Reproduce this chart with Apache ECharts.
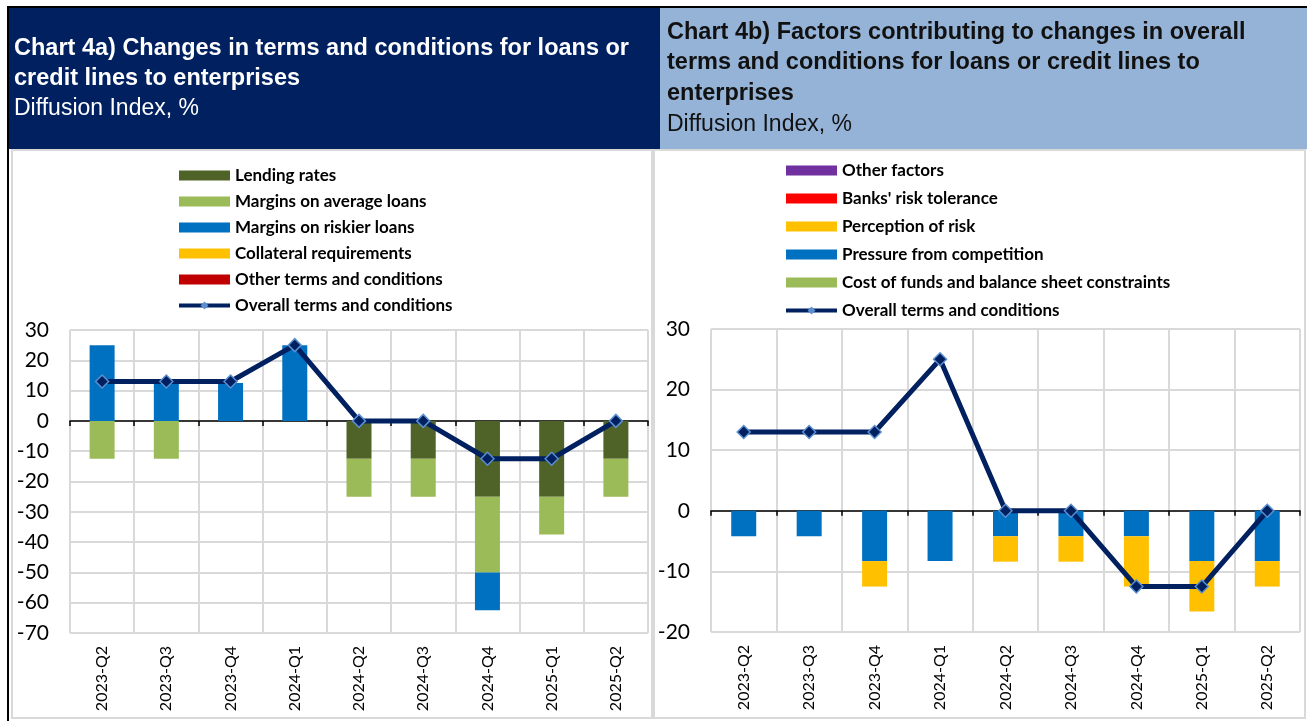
<!DOCTYPE html>
<html>
<head>
<meta charset="utf-8">
<script src="https://cdn.jsdelivr.net/npm/echarts@6/dist/echarts.min.js"></script>
<style>
html,body{margin:0;padding:0;background:#fff;}
#chart{width:1307px;height:721px;}
</style>
</head>
<body>
<div id="chart"></div>
<script>
const categories = ['2023-Q2','2023-Q3','2023-Q4','2024-Q1','2024-Q2','2024-Q3','2024-Q4','2025-Q1','2025-Q2'];

// Chart 4a
const lendingRates   = [0, 0, 0, 0, -12.5, -12.5, -25, -25, -12.5];
const marginsAverage = [-12.5, -12.5, 0, 0, -12.5, -12.5, -25, -12.5, -12.5];
const marginsRiskier = [25, 12.5, 12.5, 25, 0, 0, -12.5, 0, 0];
const collateral     = [0, 0, 0, 0, 0, 0, 0, 0, 0];
const otherTerms     = [0, 0, 0, 0, 0, 0, 0, 0, 0];
const overallA       = [13, 13, 13, 25, 0, 0, -12.5, -12.5, 0];

// Chart 4b
const costOfFunds    = [0, 0, 0, 0, 0, 0, 0, 0, 0];
const pressureComp   = [-4.2, -4.2, -8.3, -8.3, -4.2, -4.2, -4.2, -8.3, -8.3];
const perceptionRisk = [0, 0, -4.2, 0, -4.2, -4.2, -8.3, -8.3, -4.2];
const banksRiskTol   = [0, 0, 0, 0, 0, 0, 0, 0, 0];
const otherFactors   = [0, 0, 0, 0, 0, 0, 0, 0, 0];
const overallB       = [13, 13, 13, 25, 0, 0, -12.5, -12.5, 0];

const yTicksA = {min: -70, max: 30, interval: 10};
const yTicksB = {min: -20, max: 30, interval: 10};

const GRID_COLOR = '#D9D9D9';
const LINE_COLOR = '#002060';
const OVERALL = 'Overall terms and conditions';

const chart = echarts.init(document.getElementById('chart'));

function labelAxis(gi) {
  return {
    gridIndex: gi, type: 'category', data: categories, position: 'bottom',
    axisLine: {show: false, onZero: false},
    axisTick: {show: false},
    axisLabel: {rotate: 90, fontFamily: 'Lato', fontSize: 16, color: '#000', margin: 13},
    splitLine: {show: true, lineStyle: {color: GRID_COLOR, width: 2}}
  };
}
function zeroAxis(gi) {
  return {
    gridIndex: gi, type: 'category', data: categories, position: 'bottom',
    axisLine: {show: true, onZero: true, lineStyle: {color: '#000', width: 1.5}},
    axisTick: {show: true, length: 5, lineStyle: {color: '#000', width: 1.5}},
    axisLabel: {show: false},
    splitLine: {show: false}
  };
}
function valueAxis(gi, t) {
  return {
    gridIndex: gi, type: 'value', min: t.min, max: t.max, interval: t.interval,
    axisLine: {show: false}, axisTick: {show: false},
    axisLabel: {fontFamily: 'Lato', fontSize: 21, color: '#000', margin: 21},
    splitLine: {show: true, lineStyle: {color: GRID_COLOR, width: 2}}
  };
}
function bar(name, data, color, xi, yi, stack) {
  return {
    name: name, type: 'bar', data: data, stack: stack,
    xAxisIndex: xi, yAxisIndex: yi, barWidth: 25,
    itemStyle: {color: color}, emphasis: {disabled: true}
  };
}
function line(data, xi, yi) {
  return {
    name: OVERALL, type: 'line', data: data, xAxisIndex: xi, yAxisIndex: yi,
    z: 5, symbol: 'diamond', symbolSize: 13,
    lineStyle: {color: LINE_COLOR, width: 5},
    itemStyle: {color: LINE_COLOR, borderColor: '#5B8FD0', borderWidth: 1.5},
    emphasis: {disabled: true}
  };
}

const legendText = {fontFamily: 'Lato', fontWeight: 'bold', fontSize: 17, color: '#000', lineHeight: 16};
const overallLegend = {name: OVERALL, lineStyle: {width: 4, color: LINE_COLOR}, itemStyle: {color: '#5B8FD0', borderWidth: 0}};

function titleText(text, x, y, bold, color) {
  return {
    type: 'text', x: x, y: y, z: 10,
    style: {text: text, fill: color, font: (bold ? 'bold 23.5px' : '23px') + ' "Liberation Sans", Arial, sans-serif', verticalAlign: 'middle'}
  };
}

const option = {
  animation: false,
  backgroundColor: '#fff',
  graphic: {elements: [
    {type: 'rect', z: -10, shape: {x: 12, y: 150, width: 640, height: 568}, style: {fill: '#fff', stroke: GRID_COLOR, lineWidth: 2}},
    {type: 'rect', z: -10, shape: {x: 654, y: 150, width: 651, height: 568}, style: {fill: '#fff', stroke: GRID_COLOR, lineWidth: 2}},
    {type: 'rect', z: -9, shape: {x: 9, y: 8, width: 651, height: 141}, style: {fill: '#002060'}},
    {type: 'rect', z: -9, shape: {x: 660, y: 8, width: 647, height: 141}, style: {fill: '#95B3D7'}},
    {type: 'rect', z: -8, shape: {x: 7, y: 6, width: 1300, height: 2}, style: {fill: '#000'}},
    {type: 'rect', z: -8, shape: {x: 7, y: 6, width: 2, height: 715}, style: {fill: '#000'}},
    titleText('Chart 4a) Changes in terms and conditions for loans or', 14, 49, true, '#fff'),
    titleText('credit lines to enterprises', 14, 79, true, '#fff'),
    titleText('Diffusion Index, %', 14, 109, false, '#fff'),
    titleText('Chart 4b) Factors contributing to changes in overall', 667, 33, true, '#111'),
    titleText('terms and conditions for loans or credit lines to', 667, 63, true, '#111'),
    titleText('enterprises', 667, 94, true, '#111'),
    titleText('Diffusion Index, %', 667, 125, false, '#111')
  ]},
  legend: [
    {
      orient: 'vertical', left: 177, top: 167, padding: 0, itemWidth: 51, itemHeight: 10, itemGap: 9,
      textStyle: legendText, selectedMode: false,
      data: [
        {name: 'Lending rates', icon: 'rect'},
        {name: 'Margins on average loans', icon: 'rect'},
        {name: 'Margins on riskier loans', icon: 'rect'},
        {name: 'Collateral requirements', icon: 'rect'},
        {name: 'Other terms and conditions', icon: 'rect'},
        overallLegend
      ]
    },
    {
      orient: 'vertical', left: 784, top: 162, padding: 0, itemWidth: 51, itemHeight: 10, itemGap: 11,
      textStyle: legendText, selectedMode: false,
      data: [
        {name: 'Other factors', icon: 'rect'},
        {name: "Banks' risk tolerance", icon: 'rect'},
        {name: 'Perception of risk', icon: 'rect'},
        {name: 'Pressure from competition', icon: 'rect'},
        {name: 'Cost of funds and balance sheet constraints', icon: 'rect'},
        overallLegend
      ]
    }
  ],
  grid: [
    {left: 70, top: 330, width: 578, height: 303, containLabel: false},
    {left: 711, top: 329, width: 589, height: 303, containLabel: false}
  ],
  xAxis: [labelAxis(0), zeroAxis(0), labelAxis(1), zeroAxis(1)],
  yAxis: [valueAxis(0, yTicksA), valueAxis(1, yTicksB)],
  series: [
    bar('Lending rates', lendingRates, '#4F6228', 0, 0, 'a'),
    bar('Margins on average loans', marginsAverage, '#9BBB59', 0, 0, 'a'),
    bar('Margins on riskier loans', marginsRiskier, '#0070C0', 0, 0, 'a'),
    bar('Collateral requirements', collateral, '#FFC000', 0, 0, 'a'),
    bar('Other terms and conditions', otherTerms, '#C00000', 0, 0, 'a'),
    line(overallA, 0, 0),
    bar('Cost of funds and balance sheet constraints', costOfFunds, '#9BBB59', 2, 1, 'b'),
    bar('Pressure from competition', pressureComp, '#0070C0', 2, 1, 'b'),
    bar('Perception of risk', perceptionRisk, '#FFC000', 2, 1, 'b'),
    bar("Banks' risk tolerance", banksRiskTol, '#FF0000', 2, 1, 'b'),
    bar('Other factors', otherFactors, '#7030A0', 2, 1, 'b'),
    line(overallB, 2, 1)
  ]
};
chart.setOption(option);
</script>
</body>
</html>
